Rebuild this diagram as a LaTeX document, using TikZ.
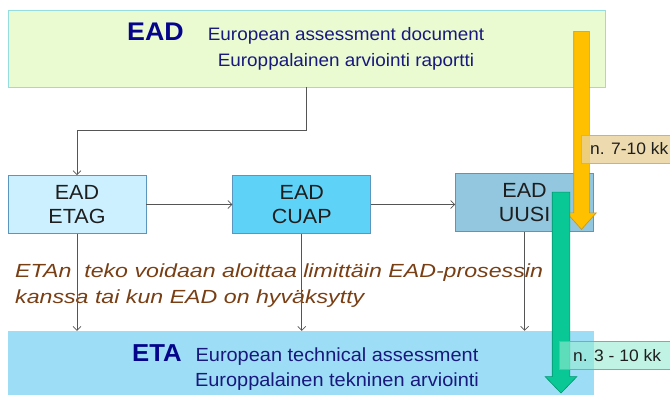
\documentclass[tikz,border=0pt]{standalone}
\usepackage{fontspec}
\setmainfont[FakeStretch=1.05]{Liberation Sans}
\newfontfamily\notefont[FakeStretch=1.22]{Liberation Sans}
\usetikzlibrary{positioning,shapes.arrows,arrows.meta}

\definecolor{eadfill}{RGB}{234,251,209}
\definecolor{eadline}{RGB}{150,222,222}
\definecolor{etagfill}{RGB}{204,240,255}
\definecolor{cuapfill}{RGB}{95,211,247}
\definecolor{uusifill}{RGB}{146,199,223}
\definecolor{etafill}{RGB}{158,221,246}
\definecolor{boxline}{RGB}{90,150,190}
\definecolor{linegray}{RGB}{85,85,85}
\definecolor{titleblue}{RGB}{5,5,140}
\definecolor{navy}{RGB}{25,25,125}
\definecolor{boxtext}{RGB}{30,30,30}
\definecolor{notebrown}{RGB}{120,62,20}
\definecolor{orangefill}{RGB}{255,192,0}
\definecolor{orangeline}{RGB}{200,150,30}
\definecolor{greenfill}{RGB}{10,200,150}
\definecolor{greenline}{RGB}{0,150,110}
\definecolor{tanfill}{RGB}{232,210,155}
\definecolor{tanline}{RGB}{200,180,130}
\definecolor{mintfill}{RGB}{150,235,210}
\definecolor{mintline}{RGB}{90,190,160}

\begin{document}
\begin{tikzpicture}
  [ x=1pt, y=-1pt,
    element/.style={
      rectangle,
      draw=boxline,
      line width=0.8pt,
      minimum width=138pt,
      minimum height=58pt,
      inner sep=0pt,
      align=center,
      text=boxtext,
      font=\fontsize{20.5}{24}\selectfont},
    line/.style={
      draw=linegray,
      line width=0.7pt,
      -{Straight Barb[length=4pt,width=8pt]}},
    bigarrow/.style={
      single arrow,
      draw,
      line width=0.6pt,
      rotate=-90,
      inner xsep=0pt,
      single arrow head indent=0pt},
    timetag/.style={
      rectangle,
      draw,
      anchor=west,
      minimum height=28pt,
      text opacity=1,
      text=boxtext,
      font=\fontsize{16.6}{20}\selectfont},
    subtitle/.style={
      inner sep=0pt,
      anchor=base,
      text=navy},
  ]

  \useasboundingbox (0,0) rectangle (670,394);
  \clip (0,0) rectangle (670,394);

  % EAD header
  \node (ead) [rectangle, draw=eadline, fill=eadfill, line width=0.8pt,
    minimum width=597pt, minimum height=77pt, inner sep=0pt] at (306.5,48.5) {};
  \node (eadtitle) [anchor=base west, inner sep=0pt, text=titleblue,
    font=\bfseries\fontsize{25.5}{28}\selectfont] at (127,40) {EAD};
  \node (eadline1) [subtitle, font=\fontsize{18}{22}\selectfont] at (346,40) {European assessment document};
  \node (eadline2) [subtitle, font=\fontsize{18}{22}\selectfont] at (346,66) {Europpalainen arviointi raportti};

  % EAD kinds
  \node (etag) [element, fill=etagfill] at (77,204.5) {EAD\\ETAG};
  \node (cuap) [element, fill=cuapfill, right=86pt of etag] {EAD\\CUAP};
  \node (uusi) [element, fill=uusifill, right=84pt of cuap, yshift=2pt] {EAD\\UUSI};

  % ETA footer
  \node (eta) [rectangle, fill=etafill, draw=etafill,
    minimum width=585pt, minimum height=69pt, inner sep=0pt] at (300.5,365.5) {};
  \node (etatitle) [anchor=base west, inner sep=0pt, text=titleblue,
    font=\bfseries\fontsize{24.5}{28}\selectfont] at (132,361) {ETA};
  \node (etaline1) [subtitle, font=\fontsize{19}{22}\selectfont] at (337,361) {European technical assessment};
  \node (etaline2) [subtitle, font=\fontsize{19}{22}\selectfont] at (337,386) {Europpalainen tekninen arviointi};

  % note
  \node (note1) [anchor=base west, inner sep=0pt, text=notebrown,
    font=\notefont\itshape\fontsize{19}{22}\selectfont] at (15,277)
    {ETAn\ \ teko voidaan aloittaa limittäin EAD-prosessin};
  \node (note2) [anchor=base west, inner sep=0pt, text=notebrown,
    font=\notefont\itshape\fontsize{19}{22}\selectfont] at (15,303)
    {kanssa tai kun EAD on hyväksytty};

  \draw[line] (ead.south) -- ++(0,43) -| (etag.north);
  \draw[line] (etag.east) -- (cuap.west);
  \draw[line] (cuap.east) -- (cuap.east -| uusi.west);
  \draw[line] (etag.south) -- (etag.south |- eta.north);
  \draw[line] (cuap.south) -- (cuap.south |- eta.north);
  \draw[line] (uusi.south) -- (uusi.south |- eta.north);

  % durations
  \node (arrow710) [bigarrow, fill=orangefill, draw=orangeline,
    minimum height=198pt, inner ysep=7.5pt,
    single arrow head extend=7pt, single arrow tip angle=84] at (581.5,126) {};
  \node (arrow310) [bigarrow, fill=greenfill, draw=greenline,
    minimum height=201pt, inner ysep=8.5pt,
    single arrow head extend=7pt, single arrow tip angle=88] at (561,288) {};

  \node (time710) [timetag, fill=tanfill, fill opacity=0.8, draw=tanline,
    inner xsep=9pt] at (581,149) {n. 7-10 kk};
  \node (time310) [timetag, fill=mintfill, fill opacity=0.6, draw=mintline,
    inner xsep=14pt] at (559,355.5) {n. 3 - 10 kk};

\end{tikzpicture}
\end{document}
